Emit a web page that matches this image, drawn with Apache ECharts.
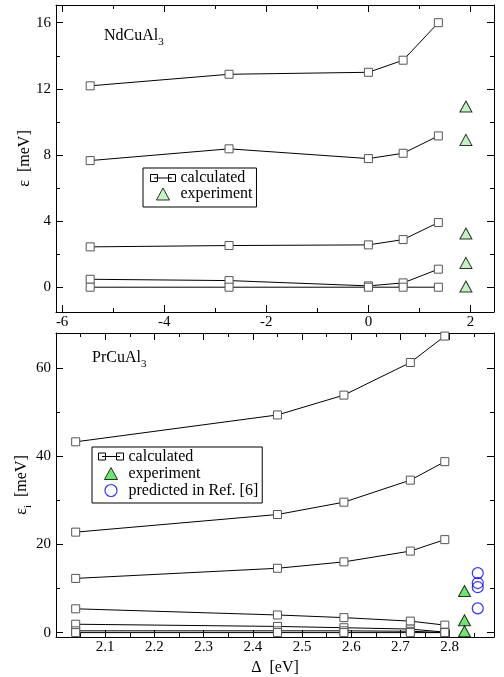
<!DOCTYPE html>
<html>
<head>
<meta charset="utf-8">
<script src="https://cdn.jsdelivr.net/npm/echarts@6/dist/echarts.min.js"></script>
<style>
  html, body { margin: 0; padding: 0; background: #fff; }
  #chart { width: 504px; height: 677px; }
</style>
</head>
<body>
<div id="chart"></div>
<script>
// NdCuAl3 panel
var ndX = [-5.45, -2.73, 0, 0.68, 1.37];
var ndLevels = [
    [12.18, 12.88, 13.0, 13.73, 16.0],
    [7.66, 8.37, 7.78, 8.1, 9.15],
    [2.44, 2.52, 2.56, 2.88, 3.91],
    [0.48, 0.40, 0.08, 0.26, 1.09],
    [0, 0, 0, 0, 0]
];
var ndExpX = 1.91;
var ndExp = [10.93, 8.91, 3.25, 1.47, 0.04];
var ndXTicks = [-6, -4, -2, 0, 2];
var ndXMinor = [-5, -3, -1, 1];
var ndYTicks = [0, 4, 8, 12, 16];
var ndYMinor = [2, 6, 10, 14];

// PrCuAl3 panel
var prX = [2.04, 2.45, 2.585, 2.72, 2.79];
var prLevels = [
    [43.3, 49.4, 53.9, 61.3, 67.3],
    [22.8, 26.8, 29.6, 34.6, 38.8],
    [12.3, 14.6, 16.05, 18.5, 21.1],
    [5.4, 4.0, 3.4, 2.6, 1.7],
    [1.9, 1.4, 1.1, 0.8, 0.1],
    [0.4, 0.4, 0.4, 0.3, 0.0],
    [0, 0, 0, 0, 0]
];
var prExpX = 2.83;
var prExp = [9.45, 2.8, 0.3];
var prRefX = 2.857;
var prRef = [13.5, 11.25, 10.3, 5.5];
var prXTicks = [2.1, 2.2, 2.3, 2.4, 2.5, 2.6, 2.7, 2.8];
var prXMinor = [2.05, 2.15, 2.25, 2.35, 2.45, 2.55, 2.65, 2.75, 2.85];
var prYTicks = [0, 20, 40, 60];
var prYMinor = [10, 30, 50];

var FONT = 'Liberation Serif';
var greenLight = '#b4f0b4';
var greenDark = '#4ade4a';

var myChart = echarts.init(document.getElementById('chart'));

function zip(xs, ys) {
    return ys.map(function (y, i) { return [xs[i], y]; });
}

// labelled major axis, mirrored major axis, and minor tick axes on both sides
function makeAxes(dim, g, min, max, major, minor, name, nameGap) {
    var sides = dim === 'x' ? ['bottom', 'top'] : ['left', 'right'];
    var list = [];
    [[major, 7], [minor, 4]].forEach(function (t, k) {
        sides.forEach(function (side, s) {
            var main = (k === 0 && s === 0);
            list.push({
                type: 'value', gridIndex: g, min: min, max: max,
                position: side,
                name: main ? name : '',
                nameLocation: 'middle', nameGap: nameGap, nameMoveOverlap: false,
                nameTextStyle: {
                    fontFamily: FONT, fontSize: 16, color: '#000',
                    rich: {
                        a: { fontFamily: FONT, fontSize: 16, color: '#000', lineHeight: 24 },
                        s: { fontFamily: FONT, fontSize: 11, color: '#000', lineHeight: 24, verticalAlign: 'bottom' }
                    }
                },
                axisLine: { show: k === 0, onZero: false, lineStyle: { color: '#000', width: 1 } },
                axisTick: {
                    show: true, inside: true, length: t[1], customValues: t[0],
                    lineStyle: { color: '#000', width: 1 }
                },
                axisLabel: {
                    show: main, customValues: t[0],
                    margin: dim === 'x' ? 3 : 5,
                    fontFamily: FONT, fontSize: 15, color: '#000'
                },
                splitLine: { show: false }
            });
        });
    });
    return list;
}

var xAxes = makeAxes('x', 0, -6.12, 2.46, ndXTicks, ndXMinor, '', 20)
    .concat(makeAxes('x', 1, 2.0, 2.89, prXTicks, prXMinor, '{a|Δ  [eV]}', 19));
var yAxes = makeAxes('y', 0, -1.5, 17.07, ndYTicks, ndYMinor, '{a|ε  [meV]}', 19)
    .concat(makeAxes('y', 1, -1, 68, prYTicks, prYMinor, '{a|ε}{s|i}{a|  [meV]}', 22));

var series = [];
function addLines(xs, levels, axisIdx) {
    levels.forEach(function (lv) {
        series.push({
            type: 'line', name: 'calculated',
            xAxisIndex: axisIdx, yAxisIndex: axisIdx,
            data: zip(xs, lv),
            symbol: 'rect', symbolSize: 8, showAllSymbol: true,
            lineStyle: { color: '#000', width: 1 },
            itemStyle: { color: '#fff', borderColor: '#555', borderWidth: 1 },
            silent: true
        });
    });
}
addLines(ndX, ndLevels, 0);
addLines(prX, prLevels, 4);

series.push({
    type: 'scatter', name: 'experiment', xAxisIndex: 0, yAxisIndex: 0,
    data: ndExp.map(function (v) { return [ndExpX, v]; }),
    symbol: 'triangle', symbolSize: [12, 11],
    itemStyle: { color: greenLight, borderColor: '#000', borderWidth: 1 },
    silent: true
});
series.push({
    type: 'scatter', name: 'experiment', xAxisIndex: 4, yAxisIndex: 4,
    data: prExp.map(function (v) { return [prExpX, v]; }),
    symbol: 'triangle', symbolSize: [12, 11],
    itemStyle: { color: greenDark, borderColor: '#000', borderWidth: 1 },
    silent: true
});
series.push({
    type: 'scatter', name: 'predicted in Ref. [6]', xAxisIndex: 4, yAxisIndex: 4,
    data: prRef.map(function (v) { return [prRefX, v]; }),
    symbol: 'circle', symbolSize: 11,
    itemStyle: { color: 'rgba(0,0,0,0)', borderColor: '#0000ff', borderWidth: 1.2 },
    silent: true
});

var calcIcon = 'path://M0,1 h7 v7 h-7 Z M18,1 h7 v7 h-7 Z M3.5,4.5 H21.5';
var triIcon = 'path://M6,0 L12,11 L0,11 Z';
var calcItem = { name: 'calculated', icon: calcIcon, itemStyle: { color: 'none', borderColor: '#000', borderWidth: 1 } };

function legendBox(left, top, pad, lh, items) {
    return {
        left: left, top: top, orient: 'vertical', selectedMode: false,
        borderColor: '#000', borderWidth: 1, borderRadius: 0, padding: pad,
        itemGap: 0, itemWidth: 25, itemHeight: 12, symbolKeepAspect: true,
        textStyle: { fontFamily: FONT, fontSize: 16, color: '#000', lineHeight: lh },
        data: items
    };
}

var option = {
    animation: false,
    grid: [
        { left: 56, top: 5, width: 438, height: 307 },
        { left: 56, top: 333, width: 438, height: 306 }
    ],
    xAxis: xAxes,
    yAxis: yAxes,
    legend: [
        legendBox(143, 168, [2, 4, 5, 5], 15, [
            calcItem,
            { name: 'experiment', icon: triIcon, symbolKeepAspect: true, itemStyle: { color: greenLight, borderColor: '#000', borderWidth: 1 } }
        ]),
        legendBox(92, 447, [1, 4, 4, 4], 17, [
            calcItem,
            { name: 'experiment', icon: triIcon, symbolKeepAspect: true, itemStyle: { color: greenDark, borderColor: '#000', borderWidth: 1 } },
            { name: 'predicted in Ref. [6]', icon: 'circle', itemStyle: { color: 'none', borderColor: '#0000ff', borderWidth: 1.2 } }
        ])
    ],
    graphic: [
        {
            type: 'text', left: 104, top: 28,
            style: {
                text: '{a|NdCuAl}{s|3}',
                rich: {
                    a: { fontFamily: FONT, fontSize: 16, fill: '#000', lineHeight: 24 },
                    s: { fontFamily: FONT, fontSize: 11, fill: '#000', lineHeight: 24, verticalAlign: 'bottom' }
                }
            }
        },
        {
            type: 'text', left: 92, top: 350,
            style: {
                text: '{a|PrCuAl}{s|3}',
                rich: {
                    a: { fontFamily: FONT, fontSize: 16, fill: '#000', lineHeight: 24 },
                    s: { fontFamily: FONT, fontSize: 11, fill: '#000', lineHeight: 24, verticalAlign: 'bottom' }
                }
            }
        }
    ],
    series: series
};

myChart.setOption(option);
</script>
</body>
</html>
